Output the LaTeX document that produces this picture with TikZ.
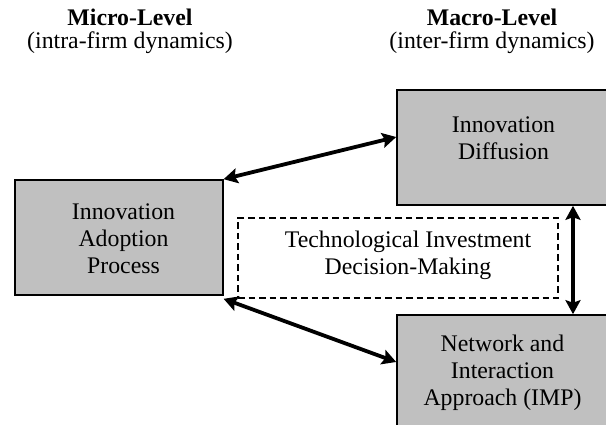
\documentclass[tikz,border=0pt]{standalone}
\usepackage{fontspec}
\setmainfont{Liberation Serif}
\usetikzlibrary{arrows.meta}
\definecolor{boxgray}{RGB}{192,192,192}
\tikzset{
  solidbox/.style={draw=black, fill=boxgray, line width=1.6pt, inner sep=0pt, rectangle},
  dashbox/.style={draw=black, line width=1.3pt, dash pattern=on 6.5pt off 4pt, inner sep=0pt, rectangle},
  boxtext/.style={align=center, inner sep=0pt, font=\fontsize{23.8}{26.8}\selectfont},
  headtext/.style={align=center, inner sep=0pt, font=\fontsize{23.8}{23}\selectfont},
  arr/.style={line width=3.8pt, {Stealth[length=14pt,width=15pt,inset=2.5pt]}-{Stealth[length=14pt,width=15pt,inset=2.5pt]}}
}
\begin{document}
\begin{tikzpicture}[x=1pt,y=-1pt]
\useasboundingbox (0,0) rectangle (606,425);
\clip (0,0) rectangle (606,425);
\fill[white] (0,0) rectangle (606,425);

% headings
\node[headtext] (micro) at (130,31) {\textbf{Micro-Level}\\(intra-firm dynamics)};
\node[headtext] (macro) at (492,31) {\textbf{Macro-Level}\\(inter-firm dynamics)};

% boxes
\node[solidbox, minimum width=208pt, minimum height=115pt] (lb) at (118.8,237.5) {};
\node[solidbox, minimum width=212pt, minimum height=115pt] (td) at (503,147.5) {};
\node[solidbox, minimum width=212pt, minimum height=115pt] (nb) at (503,372.5) {};
\node[dashbox, minimum width=320pt, minimum height=80pt] (db) at (398,258) {};

% texts
\node[boxtext] (lbt) at (123.5,238.7) {Innovation\\Adoption\\Process};
\node[boxtext] (tdt) at (503.5,138.6) {Innovation\\Diffusion};
\node[boxtext] (nbt) at (502.5,373) {Network and\\Interaction\\Approach (IMP)};
\node[boxtext] (dbt) at (408,255) {Technological Investment\\Decision-Making};

% connectors
\draw[arr] (lb.north east) -- ([yshift=10.5pt]td.west);
\draw[arr] ([yshift=-3pt]lb.south east) -- ([yshift=10.5pt]nb.west);
\draw[arr] ([xshift=70pt]td.south) -- ([xshift=70pt]nb.north);
\end{tikzpicture}
\end{document}
